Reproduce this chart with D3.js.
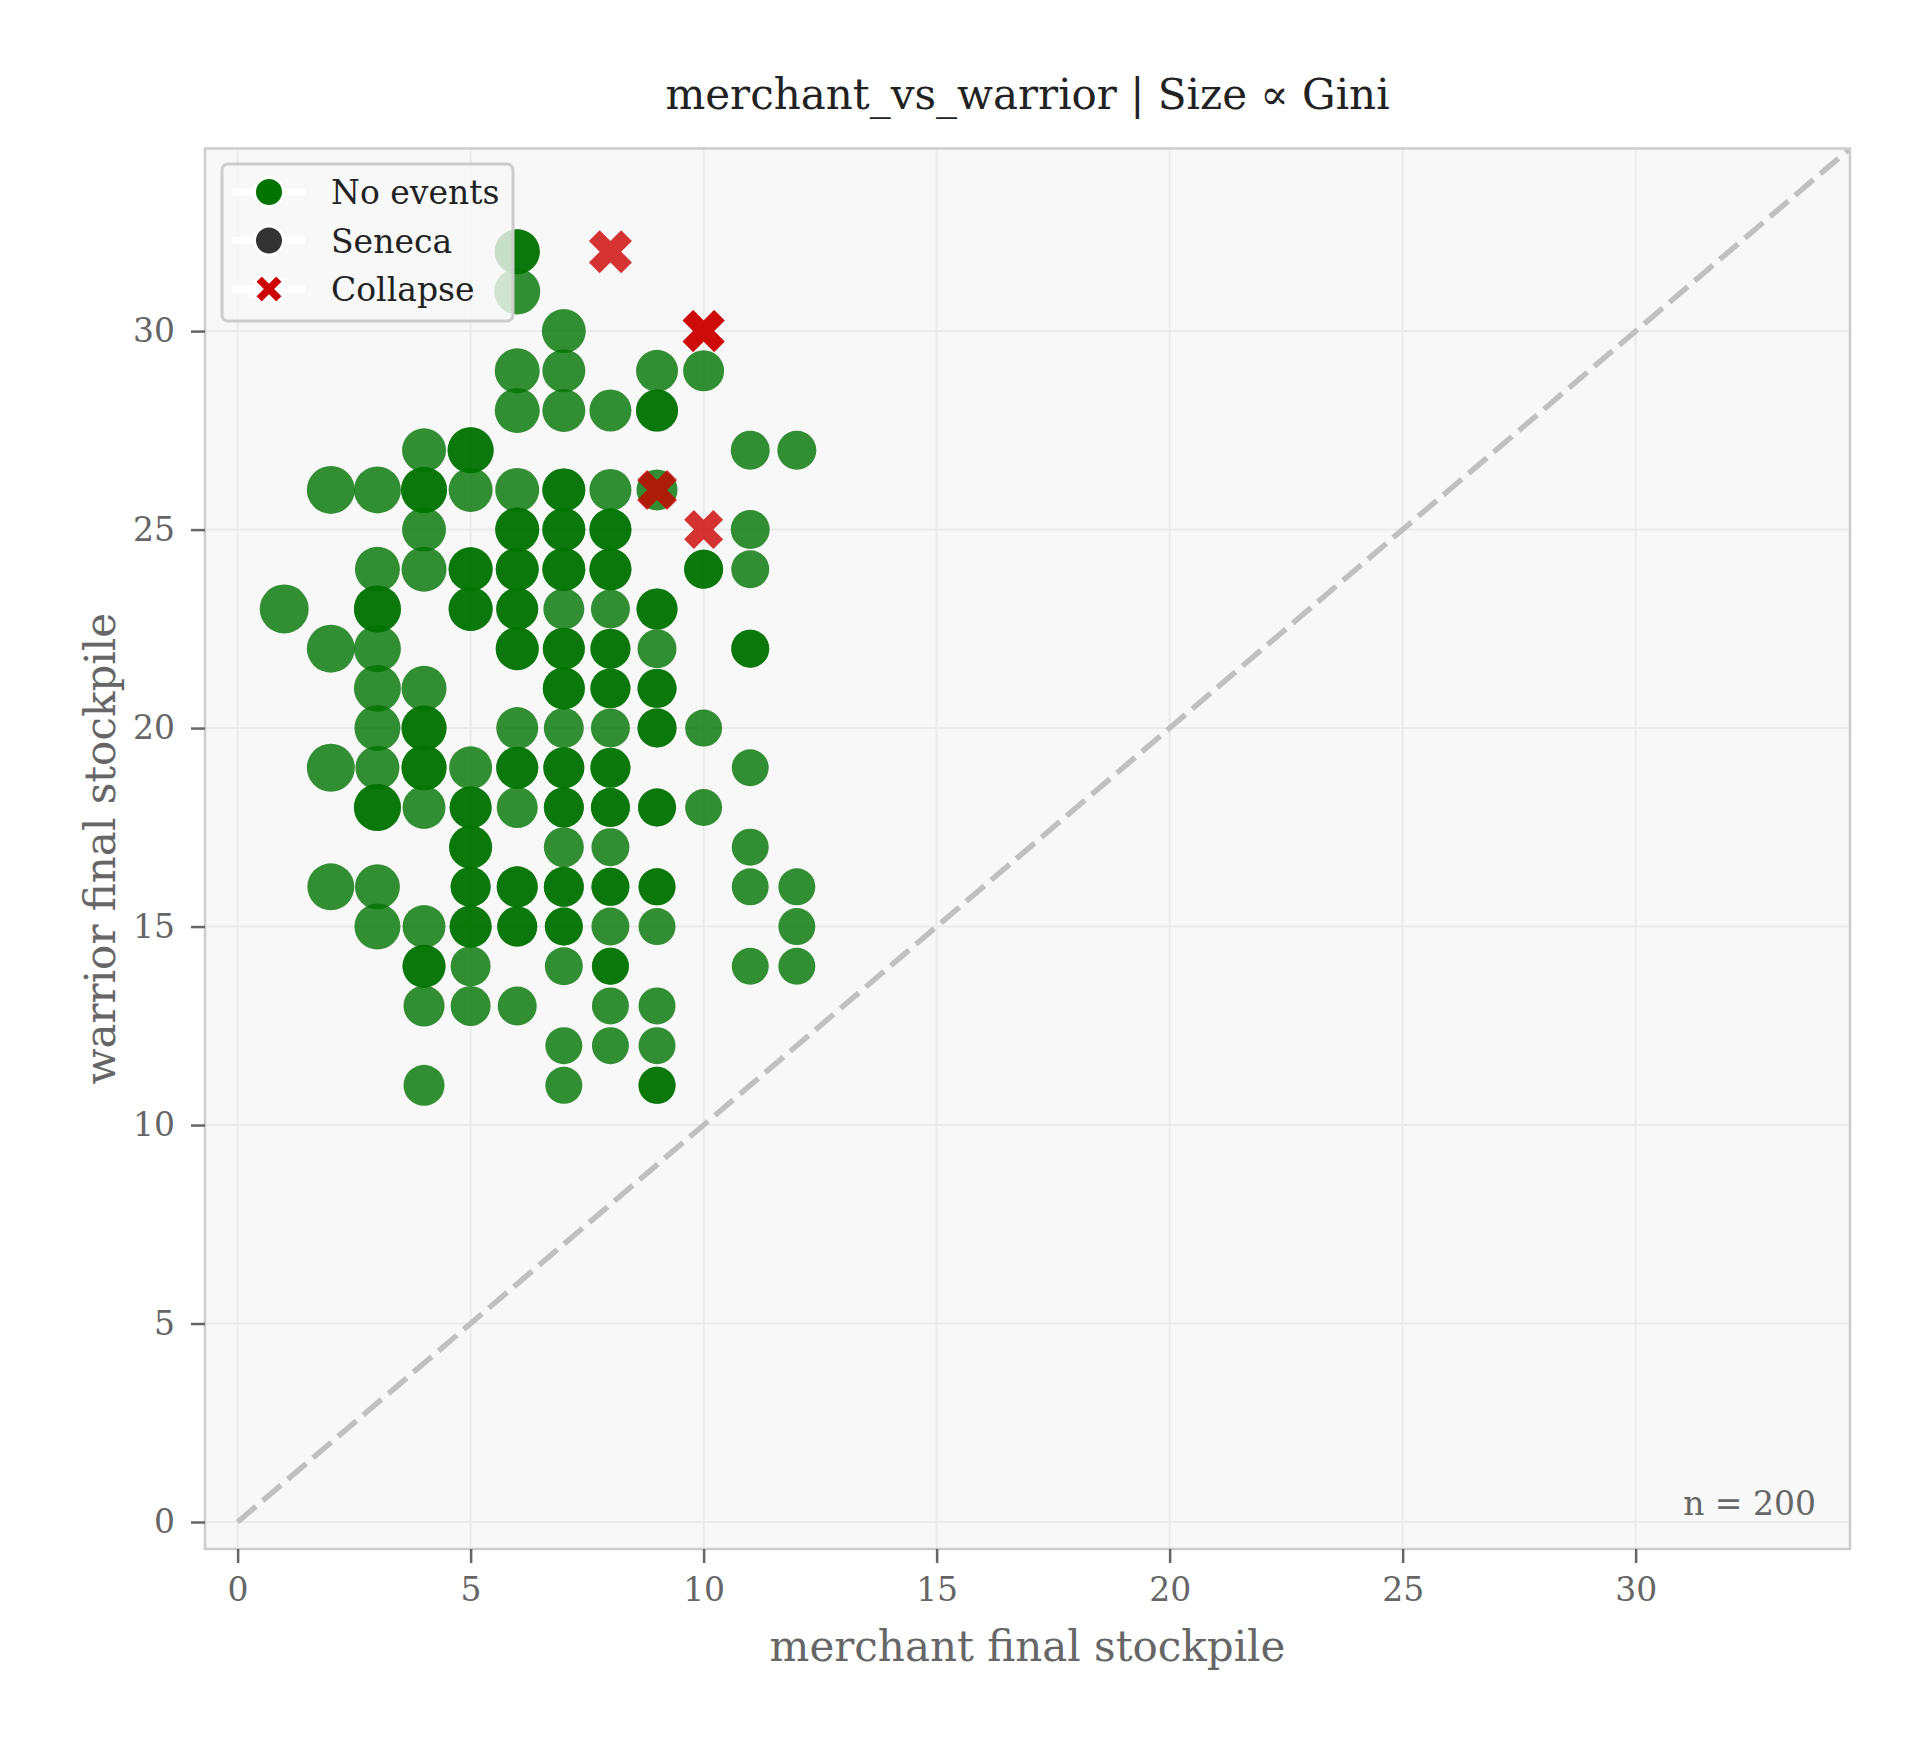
<!DOCTYPE html>
<html>
<head>
<meta charset="utf-8">
<script src="https://cdn.jsdelivr.net/npm/d3@7"></script>
<style>
    body { margin: 0; background: #ffffff; }
    text { font-family: "DejaVu Serif", serif; }
</style>
</head>
<body>
<div id="chart"></div>
<script>
// ---- data ----
// runs with no events (duplicates folded into a count)
var noEventMerchant = [
    6, 6, 7, 6, 7, 9, 10, 6, 7, 8, 9, 4, 5, 11, 12,
    2, 3, 4, 5, 6, 7, 8, 9, 4, 6, 7, 8, 11,
    3, 4, 5, 6, 7, 8, 10, 11, 1, 3, 5, 6, 7, 8, 9,
    2, 3, 6, 7, 8, 9, 11, 3, 4, 7, 8, 9,
    3, 4, 6, 7, 8, 9, 10, 2, 3, 4, 5, 6, 7, 8, 11,
    3, 4, 5, 6, 7, 8, 9, 10, 5, 7, 8, 11,
    2, 3, 5, 6, 7, 8, 9, 11, 12, 3, 4, 5, 6, 7, 8, 9, 12,
    4, 5, 7, 8, 11, 12, 4, 5, 6, 8, 9, 7, 8, 9, 4, 7, 9
];
var noEventWarrior = [
    32, 31, 30, 29, 29, 29, 29, 28, 28, 28, 28, 27, 27, 27, 27,
    26, 26, 26, 26, 26, 26, 26, 26, 25, 25, 25, 25, 25,
    24, 24, 24, 24, 24, 24, 24, 24, 23, 23, 23, 23, 23, 23, 23,
    22, 22, 22, 22, 22, 22, 22, 21, 21, 21, 21, 21,
    20, 20, 20, 20, 20, 20, 20, 19, 19, 19, 19, 19, 19, 19, 19,
    18, 18, 18, 18, 18, 18, 18, 18, 17, 17, 17, 17,
    16, 16, 16, 16, 16, 16, 16, 16, 16, 15, 15, 15, 15, 15, 15, 15, 15,
    14, 14, 14, 14, 14, 14, 13, 13, 13, 13, 13, 12, 12, 12, 11, 11, 11
];
var noEventGini = [
    .465, .486, .444, .465, .424, .405, .386, .465, .424, .405, .405, .444, .486, .349, .349,
    .529, .507, .486, .444, .444, .424, .405, .386, .444, .444, .424, .405, .349,
    .465, .465, .444, .424, .424, .405, .349, .331, .551, .507, .444, .405, .386, .349, .386,
    .529, .507, .424, .405, .367, .349, .331, .507, .465, .405, .367, .349,
    .486, .465, .405, .367, .349, .349, .314, .529, .444, .465, .424, .405, .386, .367, .314,
    .507, .424, .405, .386, .367, .349, .331, .314, .424, .367, .331, .314,
    .507, .465, .367, .386, .367, .331, .314, .314, .314, .486, .424, .405, .367, .331, .331, .314, .314,
    .424, .367, .331, .314, .314, .314, .386, .367, .349, .314, .314, .314, .314, .314, .386, .314, .314
];
var noEventCount = [
    2, 1, 1, 1, 1, 1, 1, 1, 1, 1, 2, 1, 2, 1, 1,
    1, 1, 2, 1, 1, 2, 1, 1, 1, 2, 2, 2, 1,
    1, 1, 2, 2, 2, 2, 2, 1, 1, 2, 2, 2, 1, 1, 2,
    1, 1, 2, 2, 2, 1, 2, 1, 1, 2, 2, 2,
    1, 2, 1, 1, 1, 2, 1, 1, 1, 2, 1, 2, 2, 2, 1,
    2, 1, 2, 1, 2, 2, 2, 1, 2, 1, 1, 1,
    1, 1, 2, 2, 2, 2, 2, 1, 1, 1, 1, 2, 2, 2, 1, 1, 1,
    2, 1, 1, 2, 1, 1, 1, 1, 1, 1, 1, 1, 1, 1, 1, 1, 2
];

// runs that collapsed
var collapseMerchant = [8, 10, 9, 10];
var collapseWarrior = [32, 30, 26, 25];
var collapseGini = [.424, .405, .367, .349];
var collapseCount = [1, 2, 1, 1];

var xTicks = [0, 5, 10, 15, 20, 25, 30];
var yTicks = [0, 5, 10, 15, 20, 25, 30];
var legendLabels = ['No events', 'Seneca', 'Collapse'];
var titleText = 'merchant_vs_warrior | Size \u221d Gini';
var runCount = 200;

// ---- layout ----
var width = 1924, height = 1744;
var plot = {left: 205, right: 1850, top: 148.5, bottom: 1549};
var colors = {none: '#007300', seneca: '#333333', collapse: '#cc0000'};

var svg = d3.select('#chart').append('svg')
        .attr('width', width)
        .attr('height', height);

var x = d3.scaleLinear().domain([-0.7, 34.6]).range([plot.left, plot.right]);
var y = d3.scaleLinear().domain([-0.68, 34.6]).range([plot.bottom, plot.top]);
var size = d3.scaleSqrt().domain([0, 1]).range([0, 33]);

// expand the counted points into one mark per run
function expand(mx, wy, g, n) {
    var out = [];
    mx.forEach(function(d, i) {
        for (var k = 0; k < n[i]; k++) {
            out.push({x: d, y: wy[i], g: g[i]});
        }
    });
    return out;
}
var noEvents = expand(noEventMerchant, noEventWarrior, noEventGini, noEventCount);
var collapses = expand(collapseMerchant, collapseWarrior, collapseGini, collapseCount);

// filled X marker (a plus rotated by 45 degrees), r = half of the box
function xPath(r) {
    var t = 1 / 6, a = 0.5;
    var pts = [[t, t], [a, t], [a, -t], [t, -t], [t, -a], [-t, -a],
               [-t, -t], [-a, -t], [-a, t], [-t, t], [-t, a], [t, a]];
    var s = r / ((a + t) / Math.SQRT2);
    return 'M' + pts.map(function(p) {
        var px = (p[0] - p[1]) / Math.SQRT2 * s;
        var py = (p[0] + p[1]) / Math.SQRT2 * s;
        return px.toFixed(2) + ',' + py.toFixed(2);
    }).join('L') + 'Z';
}

// background of the axes
svg.append('rect')
        .attr('x', plot.left).attr('y', plot.top)
        .attr('width', plot.right - plot.left)
        .attr('height', plot.bottom - plot.top)
        .attr('fill', '#f8f8f8');

svg.append('clipPath').attr('id', 'clip')
        .append('rect')
        .attr('x', plot.left).attr('y', plot.top)
        .attr('width', plot.right - plot.left)
        .attr('height', plot.bottom - plot.top);

// grid
var grid = svg.append('g').attr('stroke', '#ebebeb').attr('stroke-width', 2);
grid.selectAll('.gx').data(xTicks).enter().append('line')
        .attr('x1', function(d) { return x(d); })
        .attr('x2', function(d) { return x(d); })
        .attr('y1', plot.top).attr('y2', plot.bottom);
grid.selectAll('.gy').data(yTicks).enter().append('line')
        .attr('y1', function(d) { return y(d); })
        .attr('y2', function(d) { return y(d); })
        .attr('x1', plot.left).attr('x2', plot.right);

var inner = svg.append('g').attr('clip-path', 'url(#clip)');

// y = x reference line
inner.append('line')
        .attr('x1', x(0)).attr('y1', y(0))
        .attr('x2', x(34.6)).attr('y2', y(34.6))
        .attr('stroke', '#c0c0c0')
        .attr('stroke-width', 5.5)
        .attr('stroke-dasharray', '24,9');

// points
inner.selectAll('circle.none').data(noEvents).enter().append('circle')
        .attr('class', 'none')
        .attr('cx', function(d) { return x(d.x); })
        .attr('cy', function(d) { return y(d.y); })
        .attr('r', function(d) { return size(d.g); })
        .attr('fill', colors.none)
        .attr('fill-opacity', 0.8);

inner.selectAll('path.collapse').data(collapses).enter().append('path')
        .attr('class', 'collapse')
        .attr('transform', function(d) { return 'translate(' + x(d.x) + ',' + y(d.y) + ')'; })
        .attr('d', function(d) { return xPath(size(d.g)); })
        .attr('fill', colors.collapse)
        .attr('fill-opacity', 0.8);

// frame
svg.append('rect')
        .attr('x', plot.left).attr('y', plot.top)
        .attr('width', plot.right - plot.left)
        .attr('height', plot.bottom - plot.top)
        .attr('fill', 'none')
        .attr('stroke', '#cccccc')
        .attr('stroke-width', 2.5);

// axes
var xAxis = svg.append('g')
        .attr('transform', 'translate(0,' + plot.bottom + ')')
        .call(d3.axisBottom(x).tickValues(xTicks).tickSize(14).tickPadding(15));
var yAxis = svg.append('g')
        .attr('transform', 'translate(' + plot.left + ',0)')
        .call(d3.axisLeft(y).tickValues(yTicks).tickSize(14).tickPadding(16));
[xAxis, yAxis].forEach(function(ax) {
    ax.select('.domain').remove();
    ax.selectAll('.tick line').attr('stroke', '#666666').attr('stroke-width', 2.5);
    ax.selectAll('.tick text')
            .attr('fill', '#666666')
            .style('font-family', '"DejaVu Serif", serif')
            .style('font-size', '33px');
});

// labels
svg.append('text')
        .attr('x', (plot.left + plot.right) / 2).attr('y', 109)
        .attr('text-anchor', 'middle')
        .attr('fill', '#222222')
        .style('font-size', '42px')
        .text(titleText);
svg.append('text')
        .attr('x', (plot.left + plot.right) / 2).attr('y', 1661)
        .attr('text-anchor', 'middle')
        .attr('fill', '#666666')
        .style('font-size', '42px')
        .text('merchant final stockpile');
svg.append('text')
        .attr('transform', 'translate(115,' + (plot.top + plot.bottom) / 2 + ') rotate(-90)')
        .attr('text-anchor', 'middle')
        .attr('fill', '#666666')
        .style('font-size', '42px')
        .text('warrior final stockpile');
svg.append('text')
        .attr('x', 1816).attr('y', 1515)
        .attr('text-anchor', 'end')
        .attr('fill', '#666666')
        .style('font-size', '33px')
        .text('n = ' + runCount);

// legend
var legend = svg.append('g');
legend.append('rect')
        .attr('x', 222).attr('y', 164)
        .attr('width', 291).attr('height', 157)
        .attr('rx', 6)
        .attr('fill', '#f8f8f8').attr('fill-opacity', 0.8)
        .attr('stroke', '#cccccc').attr('stroke-width', 3);
var entry = legend.selectAll('g.entry').data(legendLabels).enter().append('g')
        .attr('class', 'entry')
        .attr('transform', function(d, i) { return 'translate(0,' + (192 + i * 48.5) + ')'; });
entry.append('line')
        .attr('x1', 232).attr('x2', 305)
        .attr('stroke', '#ffffff').attr('stroke-width', 7);
entry.each(function(d, i) {
    var g = d3.select(this);
    if (i < 2) {
        g.append('circle')
                .attr('cx', 269).attr('r', 14.5)
                .attr('fill', i === 0 ? colors.none : colors.seneca)
                .attr('stroke', '#ffffff').attr('stroke-width', 3);
    } else {
        g.append('path')
                .attr('transform', 'translate(269,0)')
                .attr('d', xPath(14.5))
                .attr('fill', colors.collapse)
                .attr('stroke', '#ffffff').attr('stroke-width', 3);
    }
});
entry.append('text')
        .attr('x', 331).attr('y', 12)
        .attr('fill', '#222222')
        .style('font-size', '33px')
        .text(function(d) { return d; });
</script>
</body>
</html>
